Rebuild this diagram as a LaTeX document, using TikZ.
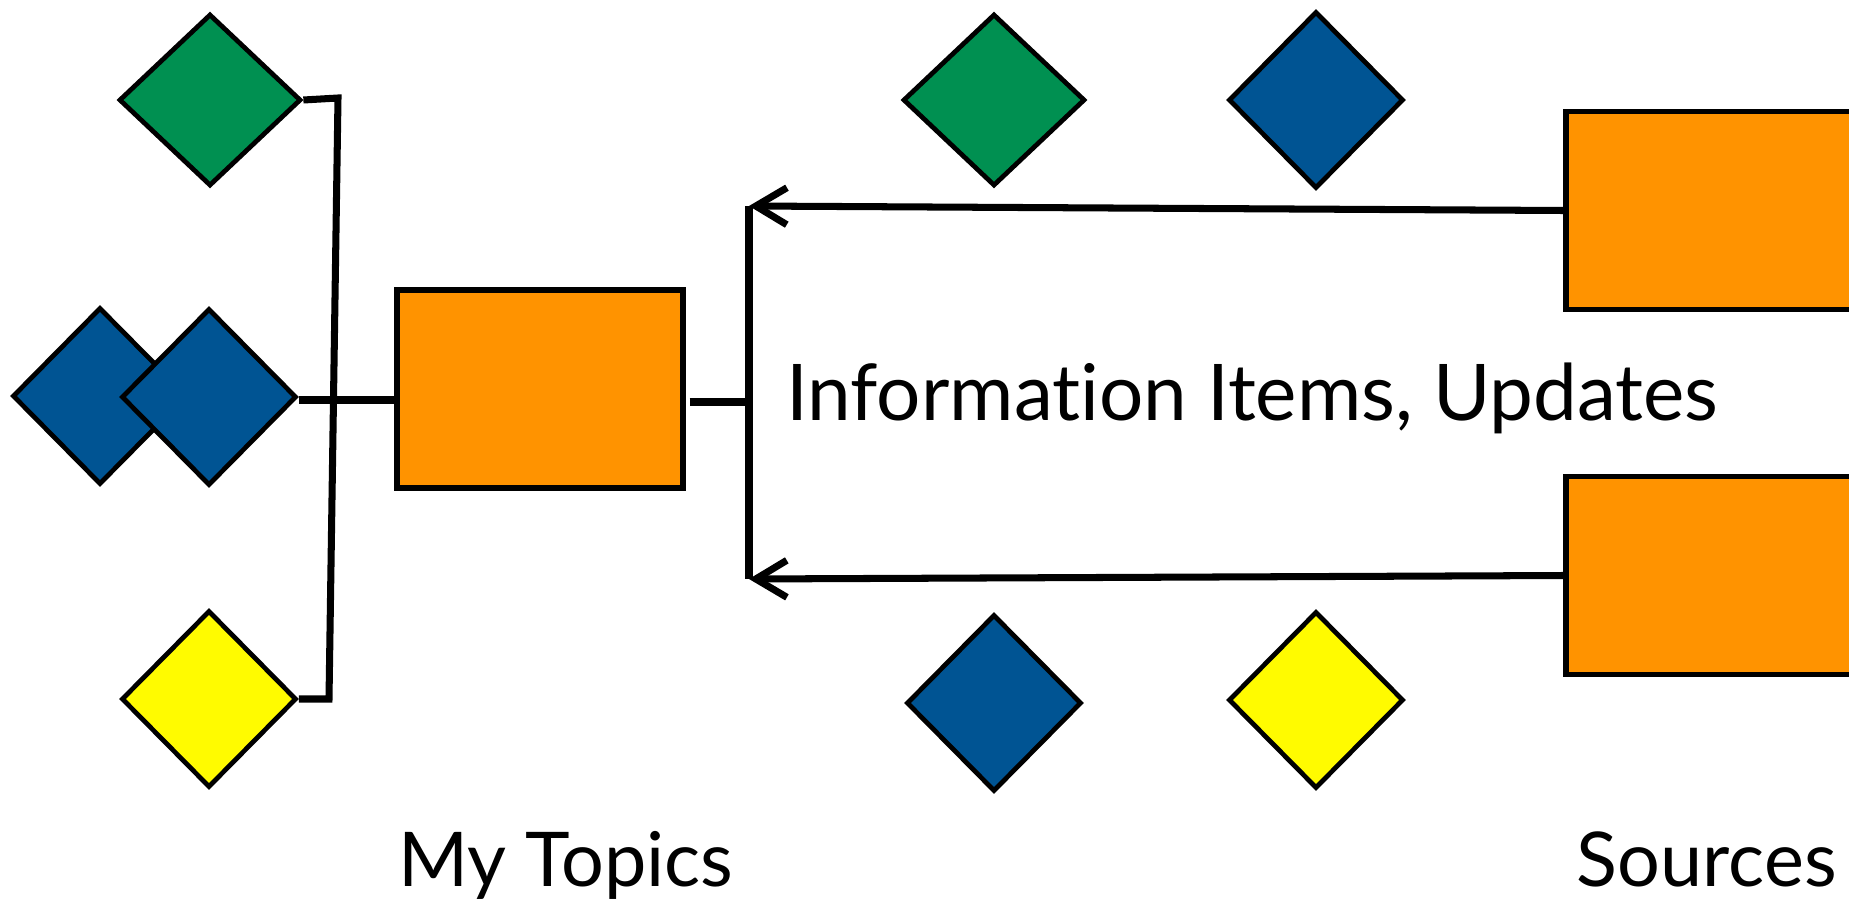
\documentclass[tikz,border=0pt]{standalone}
\usepackage{fontspec}
\setmainfont{Lato}[Ligatures=NoCommon]
\usepackage{tikz}
\usetikzlibrary{shapes.geometric,arrows.meta}

\definecolor{moss}{HTML}{009051}
\definecolor{ocean}{HTML}{005493}
\definecolor{lemon}{HTML}{FFFB00}
\definecolor{tangerine}{HTML}{FF9300}

\begin{document}
\begin{tikzpicture}[
    gem/.style={diamond, draw, line width=2.7pt, minimum width=3.5cm, minimum height=3.54cm, inner sep=0pt},
    wide/.style={minimum width=3.64cm, minimum height=3.44cm},
    box/.style={rectangle, draw, fill=tangerine, line width=3pt, minimum width=5.72cm, minimum height=3.96cm, inner sep=0pt},
    wire/.style={line width=4pt},
    label/.style={inner sep=0pt, font=\fontsize{43}{52}\selectfont}
  ]
      \useasboundingbox (0,0) rectangle (36.98,-18.1);
      % my topics
      \node[gem, wide, fill=moss] (n1) at (4.20,-2.00) {};
      \node[gem, fill=ocean] (n2) at (2.00,-7.92) {};
      \node[gem, fill=ocean] (n3) at (4.18,-7.94) {};
      \node[gem, fill=lemon] (n4) at (4.18,-13.98) {};
      \node[box] (topics) at (10.80,-7.78) {};
      \coordinate (j1) at (6.76,-1.96);
      \coordinate (j2) at (6.58,-13.98);
      \draw[wire] (n1.east) -- (j1) -- (j2) -- (n4.east);
      \draw[wire] ([yshift=-0.06cm]n3.east) -- ([yshift=-0.06cm]n3.east -| topics.west);
      % sources
      \node[gem, wide, fill=moss] (n5) at (19.88,-2.00) {};
      \node[gem, fill=ocean] (n6) at (26.32,-2.00) {};
      \node[gem, fill=ocean] (n7) at (19.88,-14.06) {};
      \node[gem, fill=lemon] (n8) at (26.32,-14.00) {};
      \node[box] (src1) at (34.18,-4.21) {};
      \node[box] (src2) at (34.18,-11.51) {};
      \coordinate (j3) at (14.98,-8.04);
      \coordinate (j4) at (14.98,-4.12);
      \coordinate (j5) at (14.98,-11.58);
      \draw[wire] ([xshift=0.08cm]topics.east |- j3) -- (j3);
      \draw[wire] (j4) -- (j5);
      \draw[wire, -{Straight Barb[length=0.62cm, width=0.74cm]}] (src1.west) -- (j4);
      \draw[wire, -{Straight Barb[length=0.62cm, width=0.74cm]}] (src2.west) -- (j5);
      % labels
      \node[label, font=\fontsize{44.5}{53}\selectfont, anchor=base west] (n9) at (15.72,-8.40) {Information Items, Updates};
      \node[label, anchor=base west] (n10) at (7.96,-17.72) {My Topics};
      \node[label, anchor=base east] (n11) at (36.74,-17.72) {Sources};
\end{tikzpicture}
\end{document}
